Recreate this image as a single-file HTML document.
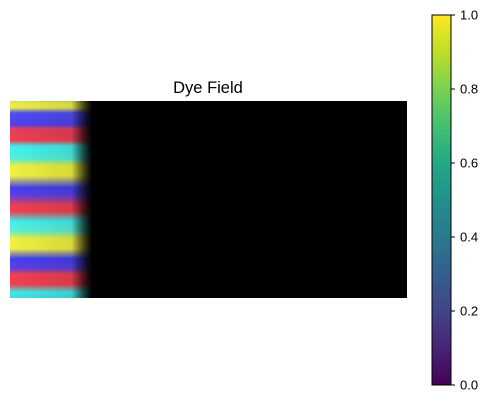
<!DOCTYPE html>
<html><head><meta charset="utf-8"><style>
body{margin:0;background:#fff;width:491px;height:403px;overflow:hidden;font-family:"Liberation Sans",sans-serif}
</style></head><body>
<svg width="491" height="403" xmlns="http://www.w3.org/2000/svg">
<defs>
<linearGradient id="stripes" x1="0" y1="101" x2="0" y2="298" gradientUnits="userSpaceOnUse">
<stop offset="0" stop-color="#d0e060"/>
<stop offset="0.015" stop-color="#f0f040"/>
<stop offset="0.035" stop-color="#e8e850"/>
<stop offset="0.06" stop-color="#5050f0"/>
<stop offset="0.12" stop-color="#5040f0"/>
<stop offset="0.14" stop-color="#e04060"/>
<stop offset="0.20" stop-color="#f04050"/>
<stop offset="0.23" stop-color="#40f0f0"/>
<stop offset="0.29" stop-color="#50f0e0"/>
<stop offset="0.33" stop-color="#f0f040"/>
<stop offset="0.38" stop-color="#f0f040"/>
<stop offset="0.44" stop-color="#4040f0"/>
<stop offset="0.48" stop-color="#6040e0"/>
<stop offset="0.53" stop-color="#f04050"/>
<stop offset="0.56" stop-color="#f04050"/>
<stop offset="0.61" stop-color="#40f0f0"/>
<stop offset="0.66" stop-color="#60f0d0"/>
<stop offset="0.70" stop-color="#f0f040"/>
<stop offset="0.75" stop-color="#f0f040"/>
<stop offset="0.80" stop-color="#4040f0"/>
<stop offset="0.85" stop-color="#6040e0"/>
<stop offset="0.88" stop-color="#f04050"/>
<stop offset="0.93" stop-color="#f04050"/>
<stop offset="0.97" stop-color="#40e8e8"/>
<stop offset="1" stop-color="#40e0e0"/>
</linearGradient>
<linearGradient id="fade" x1="10" y1="0" x2="92" y2="0" gradientUnits="userSpaceOnUse">
<stop offset="0" stop-color="#000" stop-opacity="0"/>
<stop offset="0.75" stop-color="#000" stop-opacity="0.1"/>
<stop offset="0.9" stop-color="#000" stop-opacity="0.7"/>
<stop offset="1" stop-color="#000" stop-opacity="1"/>
</linearGradient>
<linearGradient id="viridis" x1="0" y1="1" x2="0" y2="0">
<stop offset="0" stop-color="#440154"/>
<stop offset="0.1" stop-color="#482475"/>
<stop offset="0.2" stop-color="#414487"/>
<stop offset="0.3" stop-color="#355f8d"/>
<stop offset="0.4" stop-color="#2a788e"/>
<stop offset="0.5" stop-color="#21918c"/>
<stop offset="0.6" stop-color="#22a884"/>
<stop offset="0.7" stop-color="#44bf70"/>
<stop offset="0.8" stop-color="#7ad151"/>
<stop offset="0.9" stop-color="#bddf26"/>
<stop offset="1" stop-color="#fde725"/>
</linearGradient>
</defs>
<text x="208" y="93" font-size="16.5" text-anchor="middle">Dye Field</text>
<g>
<rect x="10" y="101" width="397" height="197" fill="#000"/>
<rect x="10" y="101" width="82" height="197" fill="url(#stripes)"/>
<rect x="10" y="101" width="82" height="197" fill="url(#fade)"/>
</g>
<g id="cbar">
<rect x="432" y="15" width="19" height="370" fill="url(#viridis)" stroke="#000" stroke-width="1"/>
</g>
</svg>
<script>
const cbTicks=[0,0.2,0.4,0.6,0.8,1.0];
const cbLabels=["0.0","0.2","0.4","0.6","0.8","1.0"];
const y=v=>385-v*370;
const g=document.getElementById('cbar');
const NS="http://www.w3.org/2000/svg";
cbTicks.forEach((t,i)=>{
 const l=document.createElementNS(NS,'line');
 l.setAttribute('x1',451);l.setAttribute('x2',455);l.setAttribute('y1',y(t));l.setAttribute('y2',y(t));l.setAttribute('stroke','#000');
 
 
 g.appendChild(l);
 const tx=document.createElementNS(NS,'text');
 tx.setAttribute('x',460);tx.setAttribute('y',y(t)+4.5);tx.setAttribute('font-size','13');
 tx.textContent=cbLabels[i];
 
 
 g.appendChild(tx);
});
</script>
</body></html>
